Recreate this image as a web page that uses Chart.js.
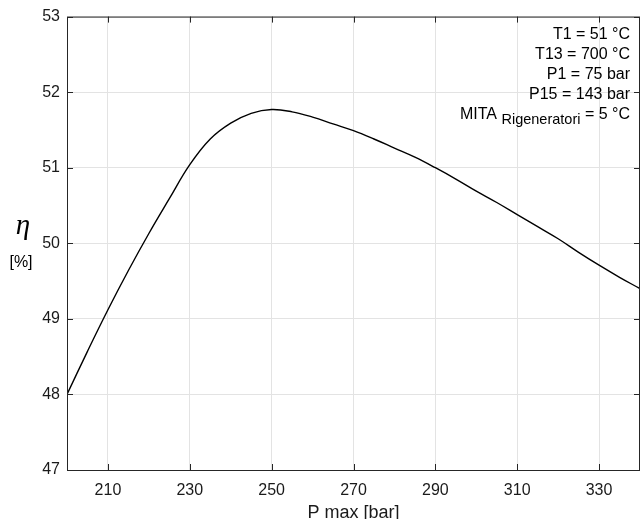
<!DOCTYPE html>
<html>
<head>
<meta charset="utf-8">
<script src="https://cdn.jsdelivr.net/npm/chart.js@4"></script>
<style>
    html, body { margin: 0; padding: 0; background: #fff; }
    #wrap { width: 640px; height: 519px; }
</style>
</head>
<body>
<div id="wrap"><canvas id="myChart" width="640" height="519"></canvas></div>
<script>
const pMax = [200, 205, 210, 215, 220, 225, 230, 235, 240, 245, 250, 255, 260, 265, 270,
    275, 280, 285, 290, 295, 300, 305, 310, 315, 320, 325, 330, 335, 340];
const eta = [48.00, 48.57, 49.12, 49.64, 50.13, 50.59, 51.04, 51.38, 51.59, 51.72, 51.77, 51.74, 51.67, 51.58, 51.49,
    51.38, 51.26, 51.14, 51.00, 50.85, 50.69, 50.54, 50.38, 50.22, 50.06, 49.88, 49.71, 49.55, 49.40];
const xTicks = [210, 230, 250, 270, 290, 310, 330];
const yTicks = [47, 48, 49, 50, 51, 52, 53];
const notes = ['T1 = 51 °C', 'T13 = 700 °C', 'P1 = 75 bar', 'P15 = 143 bar'];
const mitaNote = ['MITA ', 'Rigeneratori', ' = 5 °C'];

const sans = '"Liberation Sans", Arial, Helvetica, sans-serif';

const boxPlugin = {
    id: 'boxPlugin',
    afterDraw(chart) {
        const ctx = chart.ctx;
        const area = chart.chartArea;
        const xs = chart.scales.x;
        const ys = chart.scales.y;
        ctx.save();
        ctx.strokeStyle = '#262626';
        ctx.lineWidth = 1;
        ctx.strokeRect(area.left + 0.5, area.top + 0.5, area.right - area.left - 1, area.bottom - area.top);
        ctx.beginPath();
        xTicks.forEach(v => {
            const px = Math.round(xs.getPixelForValue(v)) + 0.5;
            ctx.moveTo(px, area.bottom);
            ctx.lineTo(px, area.bottom - 6);
            ctx.moveTo(px, area.top);
            ctx.lineTo(px, area.top + 6);
        });
        yTicks.forEach(v => {
            const py = Math.round(ys.getPixelForValue(v)) + 0.5;
            ctx.moveTo(area.left, py);
            ctx.lineTo(area.left + 6, py);
            ctx.moveTo(area.right, py);
            ctx.lineTo(area.right - 6, py);
        });
        ctx.stroke();

        ctx.fillStyle = '#000';
        ctx.textAlign = 'right';
        ctx.textBaseline = 'alphabetic';
        ctx.font = '16px ' + sans;
        notes.forEach((t, i) => {
            ctx.fillText(t, 630, 39 + i * 20);
        });
        let x = 630;
        ctx.font = '16px ' + sans;
        ctx.fillText(mitaNote[2], x, 119);
        x -= ctx.measureText(mitaNote[2]).width;
        ctx.font = '14.5px ' + sans;
        ctx.fillText(mitaNote[1], x, 124);
        x -= ctx.measureText(mitaNote[1]).width;
        ctx.font = '16px ' + sans;
        ctx.fillText(mitaNote[0], x, 119);

        ctx.textAlign = 'center';
        ctx.font = 'italic 29px "Liberation Serif", "DejaVu Serif", serif';
        ctx.fillText('η', 23, 234);
        ctx.font = '16px ' + sans;
        ctx.fillText('[%]', 21, 267);
        ctx.restore();
    }
};

function createChart() {
    const ctx = document.getElementById('myChart');
    const myChart = new Chart(ctx, {
        type: 'line',
        data: {
            datasets: [{
                data: pMax.map((p, i) => ({ x: p, y: eta[i] })),
                borderColor: '#000',
                borderWidth: 1.4,
                pointRadius: 0,
                tension: 0.4,
                fill: false
            }]
        },
        options: {
            responsive: false,
            animation: false,
            layout: { padding: { top: 16, right: -1, left: 0, bottom: 0 } },
            plugins: {
                legend: { display: false },
                tooltip: { enabled: false }
            },
            scales: {
                x: {
                    type: 'linear',
                    min: 200,
                    max: 340,
                    afterBuildTicks: (scale) => { scale.ticks = xTicks.map(v => ({ value: v })); },
                    afterFit: (scale) => { scale.height = 49; },
                    grid: { color: '#e3e3e3', drawTicks: false },
                    border: { display: false },
                    ticks: {
                        color: '#1a1a1a',
                        padding: 11,
                        maxRotation: 0,
                        font: { family: sans, size: 16 }
                    },
                    title: {
                        display: true,
                        text: 'P max [bar]',
                        color: '#1a1a1a',
                        padding: { top: 0, bottom: -3 },
                        font: { family: sans, size: 18, lineHeight: 1 }
                    }
                },
                y: {
                    min: 47,
                    max: 53,
                    afterBuildTicks: (scale) => { scale.ticks = yTicks.map(v => ({ value: v })); },
                    afterFit: (scale) => { scale.width = 67; },
                    grid: { color: '#e3e3e3', drawTicks: false },
                    border: { display: false },
                    ticks: {
                        color: '#1a1a1a',
                        padding: 7,
                        font: { family: sans, size: 16 }
                    }
                }
            }
        },
        plugins: [boxPlugin]
    });
    return myChart;
}

createChart();
</script>
</body>
</html>
